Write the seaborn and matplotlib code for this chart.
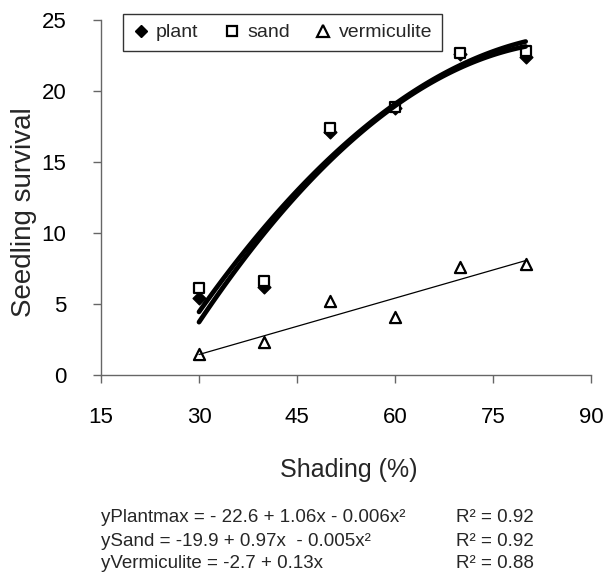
import numpy as np
import pandas as pd
import matplotlib
matplotlib.use("Agg")
import matplotlib.pyplot as plt
import seaborn as sns
from matplotlib.lines import Line2D

sns.set_style("white")
plt.rcParams['font.family'] = ['Liberation Sans', 'DejaVu Sans']

# Data
shading = [30, 40, 50, 60, 70, 80]
plant = [5.4, 6.2, 17.1, 18.8, 22.6, 22.4]
sand = [6.1, 6.6, 17.4, 18.9, 22.7, 22.8]
vermiculite = [1.5, 2.3, 5.2, 4.1, 7.6, 7.8]
x_ticks = [15, 30, 45, 60, 75, 90]
y_ticks = [0, 5, 10, 15, 20, 25]
equations = ["yPlantmax = - 22.6 + 1.06x - 0.006x²",
             "ySand = -19.9 + 0.97x  - 0.005x²",
             "yVermiculite = -2.7 + 0.13x"]
r2_texts = ["R² = 0.92", "R² = 0.92", "R² = 0.88"]

df = pd.DataFrame({"shading": shading, "plant": plant, "sand": sand,
                   "vermiculite": vermiculite})

W, H = 605, 574
fig = plt.figure(figsize=(W / 100, H / 100), dpi=100)
L, R, T, B = 101, 591, 20, 375
ax = fig.add_axes([L / W, 1 - B / H, (R - L) / W, (B - T) / H])

# scatter points
sns.scatterplot(data=df, x="shading", y="plant", marker="D", s=42,
                color="black", edgecolor="black", linewidth=1, ax=ax, zorder=3)
sns.scatterplot(data=df, x="shading", y="sand", marker="s", s=56,
                facecolor="white", edgecolor="black", linewidth=1.6, ax=ax, zorder=4)
sns.scatterplot(data=df, x="shading", y="vermiculite", marker="^", s=64,
                facecolor="white", edgecolor="black", linewidth=1.6, ax=ax, zorder=4)

# fitted trend lines
sns.regplot(data=df, x="shading", y="plant", order=2, ci=None, scatter=False,
            truncate=True, line_kws=dict(color="black", lw=3.4, zorder=5), ax=ax)
sns.regplot(data=df, x="shading", y="sand", order=2, ci=None, scatter=False,
            truncate=True, line_kws=dict(color="black", lw=3.4, zorder=5), ax=ax)
sns.regplot(data=df, x="shading", y="vermiculite", order=1, ci=None, scatter=False,
            truncate=True, line_kws=dict(color="black", lw=0.9, zorder=5), ax=ax)

ax.set_xlim(15, 90)
ax.set_ylim(0, 25)
ax.set_xticks(x_ticks)
ax.set_yticks(y_ticks)
ax.set_xticklabels([str(v) for v in x_ticks])
ax.set_yticklabels([str(v) for v in y_ticks])
ax.tick_params(axis="both", direction="out", length=6, width=1, color="#666666",
               labelsize=16, labelcolor="black")
ax.tick_params(axis="y", pad=19)
ax.tick_params(axis="x", pad=17)
ax.xaxis.set_ticks_position("bottom")
ax.yaxis.set_ticks_position("left")
for side in ["top", "right"]:
    ax.spines[side].set_visible(False)
for side in ["left", "bottom"]:
    ax.spines[side].set_color("#666666")
    ax.spines[side].set_linewidth(1)
ax.grid(False)

ax.set_xlabel("")
ax.set_ylabel("")
fig.text(349 / W, 1 - 470 / H, "Shading (%)", ha="center", va="center", fontsize=18)
fig.text(24 / W, 1 - 212 / H, "Seedling survival", ha="center", va="center",
         rotation=90, fontsize=20)

handles = [
    Line2D([], [], ls="none", marker="D", ms=6, color="black"),
    Line2D([], [], ls="none", marker="s", ms=7.5, mfc="white", mec="black", mew=1.6),
    Line2D([], [], ls="none", marker="^", ms=8, mfc="white", mec="black", mew=1.6),
]
leg = fig.legend(handles, ["plant", "sand", "vermiculite"], loc="upper left",
                 bbox_to_anchor=(123 / W, 1 - 14 / H), bbox_transform=fig.transFigure,
                 ncol=3, frameon=True, fancybox=False, edgecolor="black",
                 fontsize=14, handlelength=0.8, handletextpad=0.4,
                 columnspacing=1.3, borderpad=0.5, borderaxespad=0)
leg.get_frame().set_linewidth(1)

ys = [518, 541, 564]
for eq, r2, y in zip(equations, r2_texts, ys):
    fig.text(101 / W, 1 - y / H, eq, ha="left", va="center", fontsize=13.5)
    fig.text(456 / W, 1 - y / H, r2, ha="left", va="center", fontsize=13.5)

fig.savefig("out.png", dpi=100)
